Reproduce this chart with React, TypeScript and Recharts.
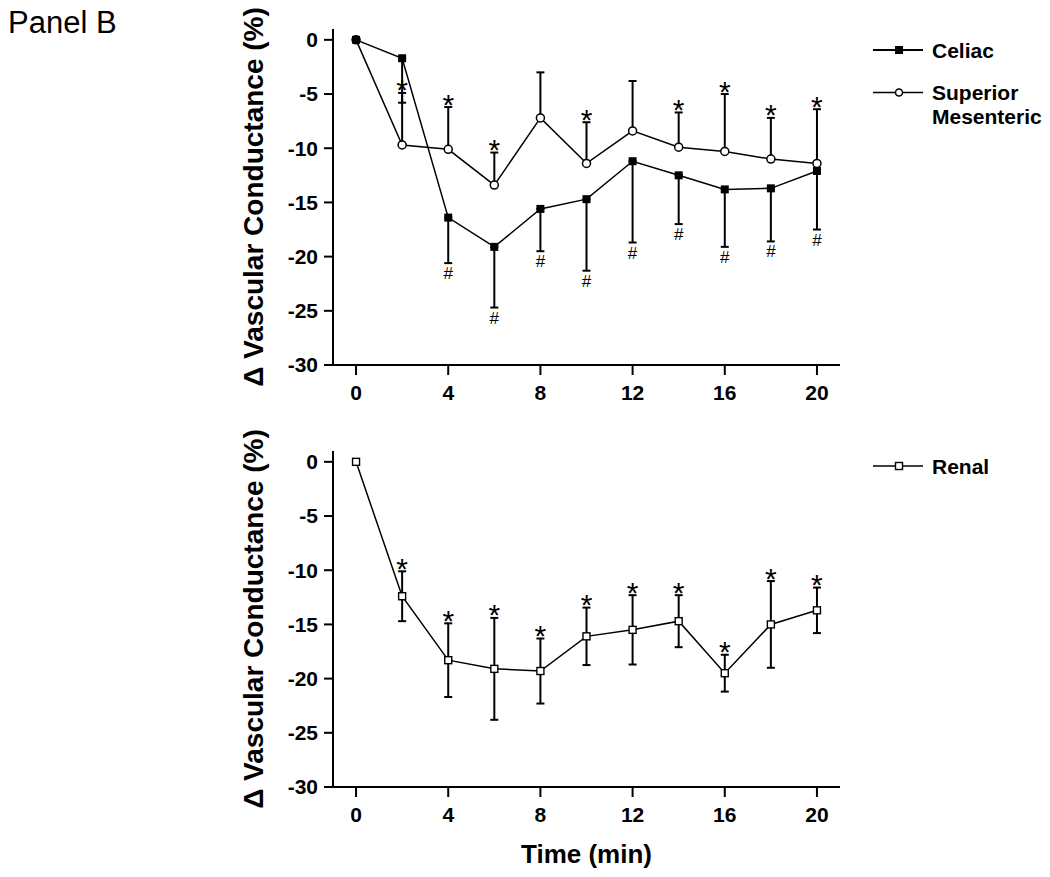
import { ComposedChart, Line, Scatter, XAxis, YAxis, ErrorBar } from 'recharts';

const time = [0, 2, 4, 6, 8, 10, 12, 14, 16, 18, 20];
const celiac = [0, -1.7, -16.4, -19.1, -15.6, -14.7, -11.2, -12.5, -13.8, -13.7, -12.1];
const celiacErrLow = [0, 4.1, 4.2, 5.6, 3.9, 6.6, 7.5, 4.5, 5.3, 4.9, 5.4];
const celiacHash = [false, false, true, true, true, true, true, true, true, true, true];
const superiorMesenteric = [0, -9.7, -10.1, -13.4, -7.2, -11.4, -8.4, -9.9, -10.3, -11.0, -11.4];
const smErrHigh = [0, 4.8, 3.9, 3.0, 4.2, 3.8, 4.6, 3.2, 5.3, 3.8, 5.0];
const smStar = [false, true, true, true, false, true, false, true, true, true, true];
const renal = [0, -12.4, -18.3, -19.1, -19.3, -16.1, -15.5, -14.7, -19.5, -15.0, -13.7];
const renalErr = [0, 2.3, 3.4, 4.7, 3.0, 2.65, 3.2, 2.4, 1.7, 4.0, 2.1];
const renalStar = [false, true, true, true, true, true, true, true, true, true, true];
const xTicks = [0, 4, 8, 12, 16, 20];
const yTicks = [-30, -25, -20, -15, -10, -5, 0];

const FONT = '"Liberation Sans", Arial, sans-serif';
const yTitle = '\u0394 Vascular Conductance (%)';

const topData = time.map((t, i) => ({
  t,
  celiac: celiac[i],
  celiacErr: [celiacErrLow[i], 0],
  sm: superiorMesenteric[i],
  smErr: [0, smErrHigh[i]],
}));
const topStars = time
  .map((t, i) => ({ t, v: superiorMesenteric[i] + smErrHigh[i], show: smStar[i] }))
  .filter(d => d.show);
const topHashes = time
  .map((t, i) => ({ t, v: celiac[i] - celiacErrLow[i], show: celiacHash[i] }))
  .filter(d => d.show);

const bottomData = time.map((t, i) => ({ t, renal: renal[i], renalErr: renalErr[i] }));
const bottomStars = time
  .map((t, i) => ({ t, v: renal[i] + renalErr[i], show: renalStar[i] }))
  .filter(d => d.show);

const tickStyle = { fontSize: 21, fontWeight: 700, fill: '#000', fontFamily: FONT };
const axisStroke = { stroke: '#000', strokeWidth: 2 };
const titleStyle = { fontSize: 28, fontWeight: 700, fill: '#000', fontFamily: FONT };

// significance marks sit just outside the error bar caps
const Star = (p: any) => (
  <text x={p.cx} y={p.cy + 7.5} textAnchor="middle" fontSize={30} fontFamily={FONT} fill="#000">*</text>
);
const Hash = (p: any) => (
  <text x={p.cx} y={p.cy + 16} textAnchor="middle" fontSize={17} fontFamily={FONT} fill="#000">#</text>
);
const FilledSquare = (p: any) => (
  <rect key={`fs-${p.index}`} x={p.cx - 4} y={p.cy - 4} width={8} height={8} fill="#000" />
);
const OpenSquare = (p: any) => (
  <rect key={`os-${p.index}`} x={p.cx - 3.5} y={p.cy - 3.5} width={7} height={7} fill="#fff" stroke="#000" strokeWidth={1.4} />
);

export default function App() {
  const margin = { top: 29, right: 210, left: 173, bottom: 5 };
  return (
    <div style={{ position: 'absolute', left: 0, top: 0, width: 1050, height: 877, background: '#fff', overflow: 'hidden' }}>
      <div style={{ position: 'absolute', left: 0, top: 0 }}>
        <ComposedChart width={1050} height={430} data={topData} margin={margin}>
          <XAxis dataKey="t" type="number" domain={[-1, 21]} ticks={xTicks} tick={tickStyle}
            axisLine={axisStroke} tickLine={axisStroke} tickSize={10} tickMargin={10} height={60} />
          <YAxis type="number" domain={[-30, 1]} ticks={yTicks} tick={tickStyle} width={160}
            axisLine={axisStroke} tickLine={axisStroke} tickSize={9} tickMargin={6}
            label={{ value: yTitle, angle: -90, position: 'center', style: titleStyle }} />
          <Line dataKey="sm" type="linear" stroke="#000" strokeWidth={1.5} isAnimationActive={false}
            dot={{ r: 4, fill: '#fff', stroke: '#000', strokeWidth: 1.5 }}>
            <ErrorBar dataKey="smErr" direction="y" width={4} stroke="#000" strokeWidth={2} />
          </Line>
          <Line dataKey="celiac" type="linear" stroke="#000" strokeWidth={1.5} isAnimationActive={false}
            dot={FilledSquare}>
            <ErrorBar dataKey="celiacErr" direction="y" width={4} stroke="#000" strokeWidth={2} />
          </Line>
          <Scatter data={topStars} dataKey="v" isAnimationActive={false} shape={Star} />
          <Scatter data={topHashes} dataKey="v" isAnimationActive={false} shape={Hash} />
        </ComposedChart>
      </div>
      <div style={{ position: 'absolute', left: 0, top: 422 }}>
        <ComposedChart width={1050} height={450} data={bottomData} margin={margin}>
          <XAxis dataKey="t" type="number" domain={[-1, 21]} ticks={xTicks} tick={tickStyle}
            axisLine={axisStroke} tickLine={axisStroke} tickSize={10} tickMargin={10} height={80}
            label={{ value: 'Time (min)', position: 'insideBottom', offset: 4, style: { ...titleStyle, fontSize: 26 } }} />
          <YAxis type="number" domain={[-30, 1]} ticks={yTicks} tick={tickStyle} width={160}
            axisLine={axisStroke} tickLine={axisStroke} tickSize={9} tickMargin={6}
            label={{ value: yTitle, angle: -90, position: 'center', style: titleStyle }} />
          <Line dataKey="renal" type="linear" stroke="#000" strokeWidth={1.5} isAnimationActive={false}
            dot={OpenSquare}>
            <ErrorBar dataKey="renalErr" direction="y" width={4} stroke="#000" strokeWidth={2} />
          </Line>
          <Scatter data={bottomStars} dataKey="v" isAnimationActive={false} shape={Star} />
        </ComposedChart>
      </div>
      <svg width={1050} height={877} style={{ position: 'absolute', left: 0, top: 0, pointerEvents: 'none' }}>
        <text x={8} y={33} fontSize={31} fontFamily={FONT} fill="#000">Panel B</text>
        <g fontFamily={FONT} fontWeight={700} fontSize={21} fill="#000">
          <line x1={873} x2={923} y1={50} y2={50} stroke="#000" strokeWidth={2} />
          <rect x={895} y={46} width={8} height={8} fill="#000" />
          <text x={932} y={57.5}>Celiac</text>
          <line x1={873} x2={923} y1={92.5} y2={92.5} stroke="#000" strokeWidth={1.5} />
          <circle cx={899} cy={92.5} r={3.5} fill="#fff" stroke="#000" strokeWidth={1.5} />
          <text x={932} y={100}>Superior</text>
          <text x={932} y={123.5}>Mesenteric</text>
          <line x1={873} x2={923} y1={466} y2={466} stroke="#000" strokeWidth={1.5} />
          <rect x={895.5} y={462.5} width={7} height={7} fill="#fff" stroke="#000" strokeWidth={1.4} />
          <text x={932} y={473.5}>Renal</text>
        </g>
      </svg>
    </div>
  );
}
